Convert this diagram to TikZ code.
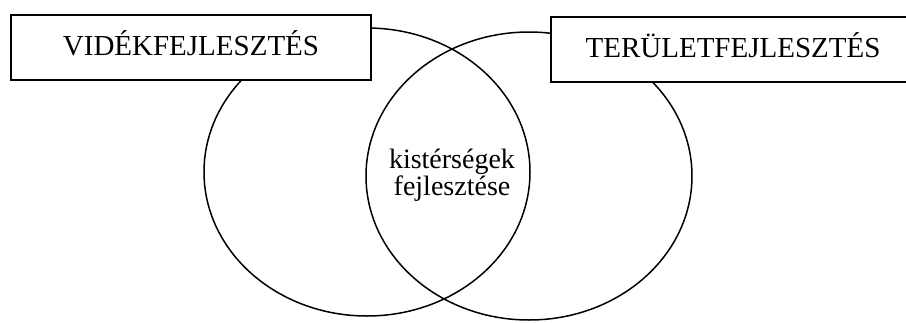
\documentclass[tikz,border=0pt]{standalone}
\usepackage{fontspec}
\setmainfont{Liberation Serif}
\usetikzlibrary{shapes.geometric}
\begin{document}
\begin{tikzpicture}[x=1pt,y=-1pt,
  circ/.style={draw, ellipse, line width=1.5pt, inner sep=0pt, minimum width=326pt, minimum height=288pt},
  labelbox/.style={draw, fill=white, line width=1.3pt, minimum height=65pt, inner sep=0pt,
    text height=19pt, text depth=4pt, font=\fontsize{29}{32}\selectfont}]
\clip (0,0) rectangle (906,322);
\useasboundingbox (0,0) rectangle (906,322);
\node[circ] (left) at (367,172) {};
\node[circ] (right) at (529,176) {};
\node[labelbox, minimum width=360pt] (vid) at (191,47.5) {VIDÉKFEJLESZTÉS};
\node[labelbox, minimum width=364pt] (ter) at (733,49.5) {TERÜLETFEJLESZTÉS};
\node[align=center, inner sep=0pt, font=\fontsize{28}{27}\selectfont] (mid) at (452,175) {kistérségek\\fejlesztése};
\end{tikzpicture}
\end{document}
